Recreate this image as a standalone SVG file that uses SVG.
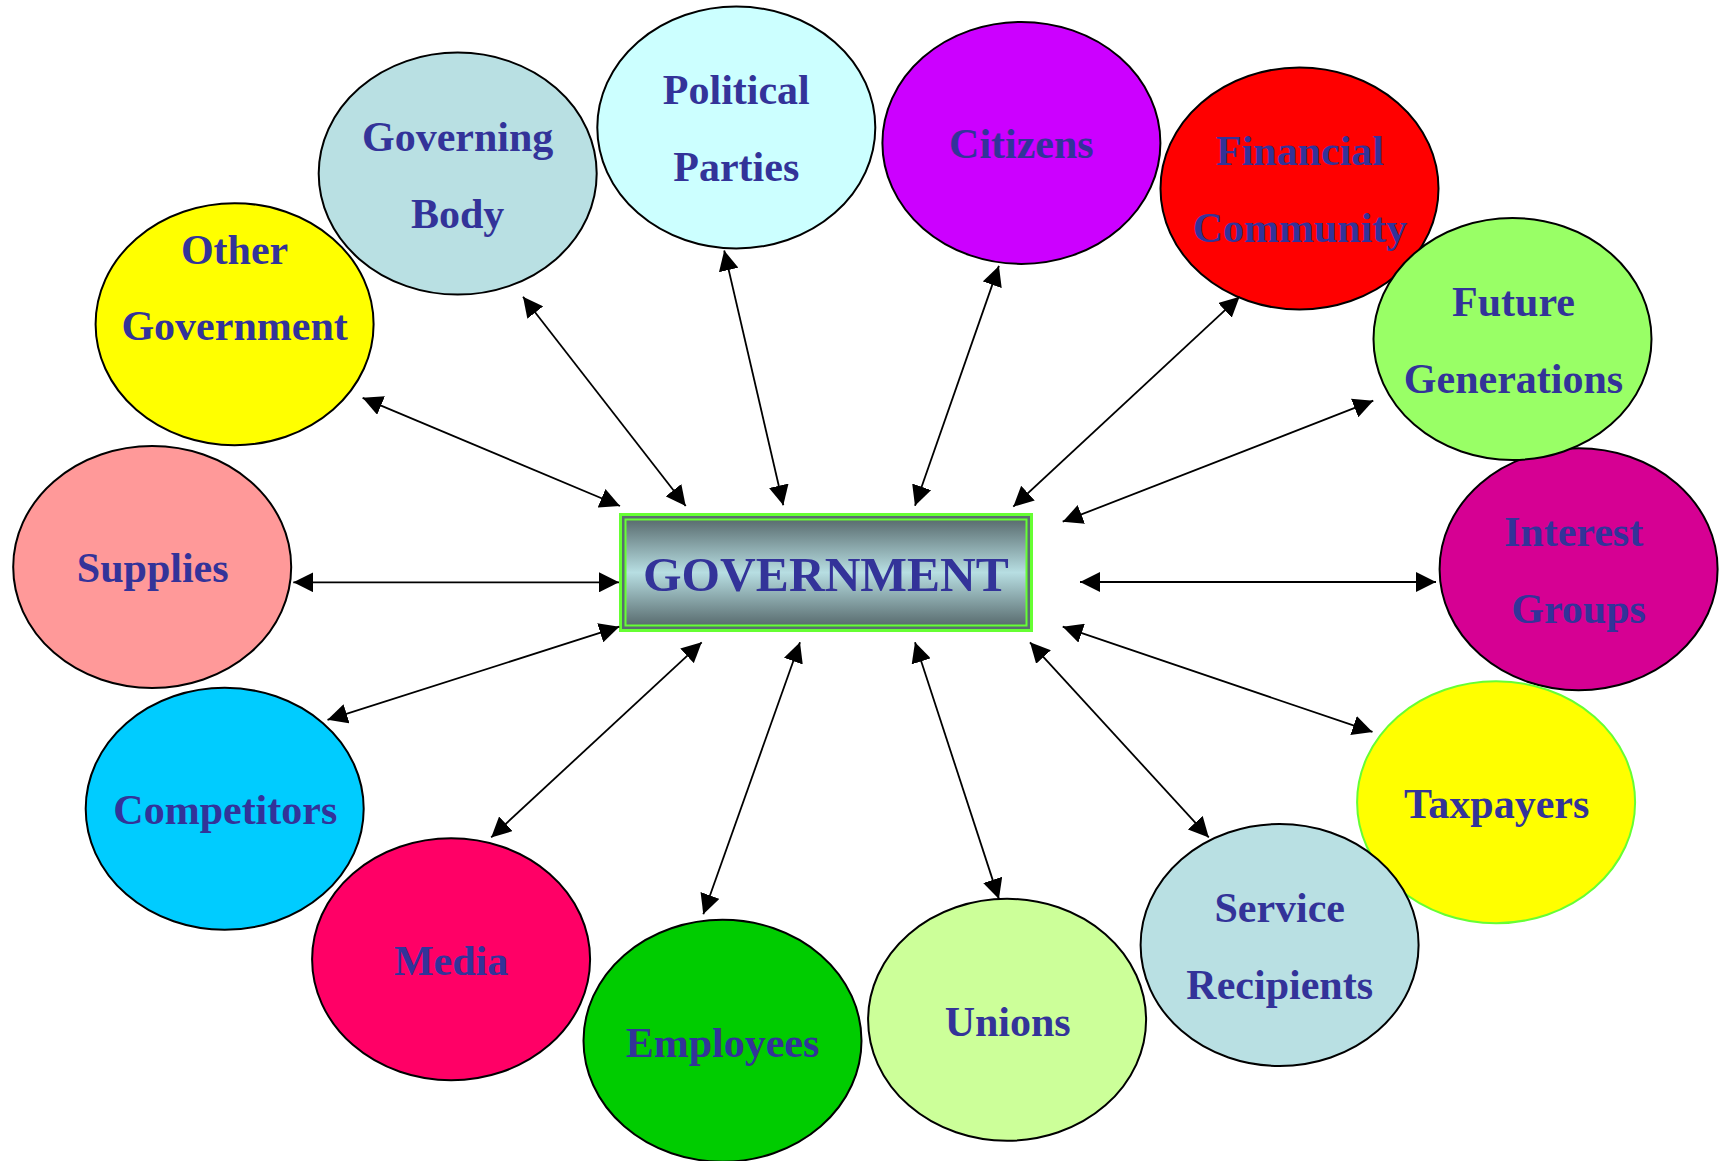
<svg xmlns="http://www.w3.org/2000/svg" width="1723" height="1161" viewBox="0 0 1723 1161">
<style>
.node ellipse{stroke:#000;stroke-width:2}
.lbl{font-family:"Liberation Serif","Times New Roman",serif;font-weight:bold;font-size:42px;fill:#333399;text-anchor:middle}
.conn line{stroke:#000;stroke-width:1.8;marker-start:url(#ah);marker-end:url(#ah)}
</style>
<defs>
<marker id="ah" markerUnits="userSpaceOnUse" markerWidth="20" markerHeight="20" refX="20" refY="10" orient="auto-start-reverse" viewBox="0 0 20 20">
<path d="M0,0 L20,10 L0,20 z" fill="#000"/>
</marker>
<linearGradient id="gv" x1="0" y1="0" x2="0" y2="1">
<stop offset="0" stop-color="#5B6E71"/>
<stop offset="0.5" stop-color="#B7DEE2"/>
<stop offset="1" stop-color="#5B6E71"/>
</linearGradient>
</defs>
<rect width="1723" height="1161" fill="#fff"/>
<g id="other-government" class="node"><ellipse cx="234.6" cy="324.2" rx="139" ry="121" fill="#FFFF00"/><text class="lbl" x="234.6" y="263.5">Other</text><text class="lbl" x="234.6" y="339.5">Government</text></g>
<g id="governing-body" class="node"><ellipse cx="457.7" cy="173.6" rx="139" ry="121" fill="#B9E0E3"/><text class="lbl" x="457.7" y="150.5">Governing</text><text class="lbl" x="457.7" y="227.5">Body</text></g>
<g id="political-parties" class="node"><ellipse cx="736.3" cy="127.5" rx="139" ry="121" fill="#CCFFFF"/><text class="lbl" x="736.3" y="104.4">Political</text><text class="lbl" x="736.3" y="181.3">Parties</text></g>
<g id="citizens" class="node"><ellipse cx="1021.4" cy="142.9" rx="139" ry="121" fill="#CC00FF"/><text class="lbl" x="1021.4" y="158">Citizens</text></g>
<g id="financial-community" class="node"><ellipse cx="1299.5" cy="188.5" rx="139" ry="121" fill="#FF0000"/><text class="lbl" x="1300" y="164.8">Financial</text><text class="lbl" x="1300" y="241.8">Community</text></g>
<g id="interest-groups" class="node"><ellipse cx="1578.6" cy="569.2" rx="139" ry="121" fill="#D60093"/><text class="lbl" x="1573.6" y="546">Interest</text><text class="lbl" x="1578.6" y="623">Groups</text></g>
<g id="future-generations" class="node"><ellipse cx="1512.5" cy="339" rx="139" ry="121" fill="#99FF66"/><text class="lbl" x="1513.5" y="316">Future</text><text class="lbl" x="1513.5" y="393">Generations</text></g>
<g id="supplies" class="node"><ellipse cx="152.2" cy="567" rx="139" ry="121" fill="#FF9999"/><text class="lbl" x="152.7" y="582.4">Supplies</text></g>
<g id="competitors" class="node"><ellipse cx="224.7" cy="808.8" rx="139" ry="121" fill="#00CCFF"/><text class="lbl" x="225.3" y="824">Competitors</text></g>
<g id="media" class="node"><ellipse cx="451.1" cy="959.3" rx="139" ry="121" fill="#FF0066"/><text class="lbl" x="451.1" y="974.7">Media</text></g>
<g id="employees" class="node"><ellipse cx="722.5" cy="1040.7" rx="139" ry="121" fill="#00CC00"/><text class="lbl" x="722.5" y="1057">Employees</text></g>
<g id="unions" class="node"><ellipse cx="1007.1" cy="1019.8" rx="139" ry="121" fill="#CCFF99"/><text class="lbl" x="1007.7" y="1036">Unions</text></g>
<g id="taxpayers" class="node"><ellipse cx="1496.1" cy="802.2" rx="139" ry="121" fill="#FFFF00" style="stroke:#66FF33"/><text class="lbl" x="1496.7" y="817.6">Taxpayers</text></g>
<g id="service-recipients" class="node"><ellipse cx="1279.6" cy="945" rx="139" ry="121" fill="#B9E0E3"/><text class="lbl" x="1279.7" y="922">Service</text><text class="lbl" x="1279.7" y="999">Recipients</text></g>
<g id="government" class="node">
<rect x="619" y="513" width="414" height="119" fill="#66FF33"/>
<rect x="622" y="516" width="408" height="113" fill="#5A6E70"/>
<rect x="624.5" y="518.5" width="403" height="108" fill="#66FF33"/>
<rect x="626.5" y="520.5" width="399" height="104" fill="url(#gv)"/>
<text class="lbl" x="826" y="590.5" style="font-size:49.5px">GOVERNMENT</text>
</g>
<g id="connectors" class="conn">
<line x1="362.6" y1="397.8" x2="620" y2="506"/>
<line x1="523" y1="296.7" x2="685.7" y2="506"/>
<line x1="724.2" y1="250.5" x2="783.3" y2="505.3"/>
<line x1="998.9" y1="265.9" x2="915" y2="505.7"/>
<line x1="1239.6" y1="296.7" x2="1013.3" y2="506.7"/>
<line x1="1373.3" y1="400.7" x2="1062.7" y2="521.7"/>
<line x1="1436" y1="582" x2="1080" y2="582"/>
<line x1="1372.5" y1="731.9" x2="1062.7" y2="626.7"/>
<line x1="1208.8" y1="837.4" x2="1030" y2="642.3"/>
<line x1="998.9" y1="898.9" x2="915" y2="642.3"/>
<line x1="703.3" y1="914.3" x2="800" y2="642.3"/>
<line x1="491.2" y1="837.4" x2="701.7" y2="642.3"/>
<line x1="327.5" y1="719.8" x2="619.3" y2="626.7"/>
<line x1="293.3" y1="582.3" x2="619" y2="582.3"/>
</g>
</svg>
